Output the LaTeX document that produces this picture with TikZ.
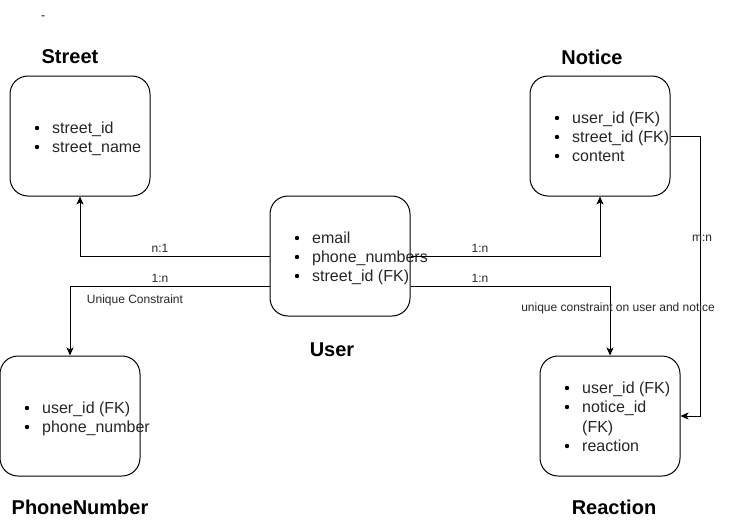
\documentclass[tikz,border=0pt]{standalone}
\usepackage{fontspec}
\setmainfont{Liberation Sans}
\usetikzlibrary{arrows.meta}
\begin{document}
\begin{tikzpicture}[x=1pt,y=-1pt,
  box/.style={draw,line width=1pt,rounded corners=18pt,minimum width=140pt,minimum height=120pt,inner sep=0pt},
  item/.style={anchor=base west,inner sep=0pt,font=\fontsize{16}{19}\selectfont,text=black!85},
  ttl/.style={font=\fontsize{20}{24}\selectfont\bfseries,inner sep=0pt},
  lbl/.style={font=\fontsize{12}{14}\selectfont,inner sep=0pt,text=black!85},
  conn/.style={line width=1pt,-{Stealth[length=8pt,width=7pt,inset=2pt]}},
  bul/.style={fill=black,radius=2.2pt}]
\useasboundingbox (0,0) rectangle (741,527);
% boxes
\node[box] (street) at (80,136) {};
\node[box] (notice) at (600,136) {};
\node[box] (user) at (340,256) {};
\node[box] (phone) at (70,416) {};
\node[box] (reaction) at (610,416) {};
% titles
\node[ttl] (tdash) at (43,18) {\fontsize{12}{14}\selectfont\mdseries -};
\node[ttl] (tstreet) at (70,57) {Street};
\node[ttl] (tnotice) at (592,57) {Notice};
\node[ttl] (tuser) at (332,350) {User};
\node[ttl] (tphone) at (80,507) {PhoneNumber};
\node[ttl] (treaction) at (614,507) {Reaction};
% Street items
\node[item] (s1) at (52,133) {street\_id};
\node[item] (s2) at (52,152) {street\_name};
\fill[bul] (37,128) circle; \fill[bul] (37,147) circle;
% Notice items
\node[item] (n1) at (572,123) {user\_id (FK)};
\node[item] (n2) at (572,142) {street\_id (FK)};
\node[item] (n3) at (572,161) {content};
\fill[bul] (557,118) circle; \fill[bul] (557,137) circle; \fill[bul] (557,156) circle;
% User items
\node[item] (u1) at (312,243) {email};
\node[item] (u2) at (312,262) {phone\_numbers};
\node[item] (u3) at (312,281) {street\_id (FK)};
\fill[bul] (297,238) circle; \fill[bul] (297,257) circle; \fill[bul] (297,276) circle;
% Phone items
\node[item] (p1) at (42,413) {user\_id (FK)};
\node[item] (p2) at (42,432) {phone\_number};
\fill[bul] (27,408) circle; \fill[bul] (27,427) circle;
% Reaction items
\node[item] (r1) at (582,393) {user\_id (FK)};
\node[item] (r2) at (582,412) {notice\_id};
\node[item] (r2b) at (582,432) {(FK)};
\node[item] (r3) at (582,451) {reaction};
\fill[bul] (567,388) circle; \fill[bul] (567,407) circle; \fill[bul] (567,446) circle;
% connectors
\draw[conn] (user.west) -| (street.south);
\draw[conn] ([yshift=-30pt]user.west) -| (phone.north);
\draw[conn] (user.east) -| (notice.south);
\draw[conn] ([yshift=-30pt]user.east) -| (reaction.north);
\draw[conn] (notice.east) -- ++(30,0) |- (reaction.east);
% labels
\node[lbl] (l1) at (160,248) {n:1};
\node[lbl] (l2) at (160,278) {1:n};
\node[lbl] (l3) at (135,300) {Unique Constraint};
\node[lbl] (l4) at (480,248) {1:n};
\node[lbl] (l5) at (480,278) {1:n};
\node[lbl] (l6) at (618,308) {unique constraint on user and notice};
\node[lbl] (l7) at (702,238) {m:n};
\end{tikzpicture}
\end{document}
